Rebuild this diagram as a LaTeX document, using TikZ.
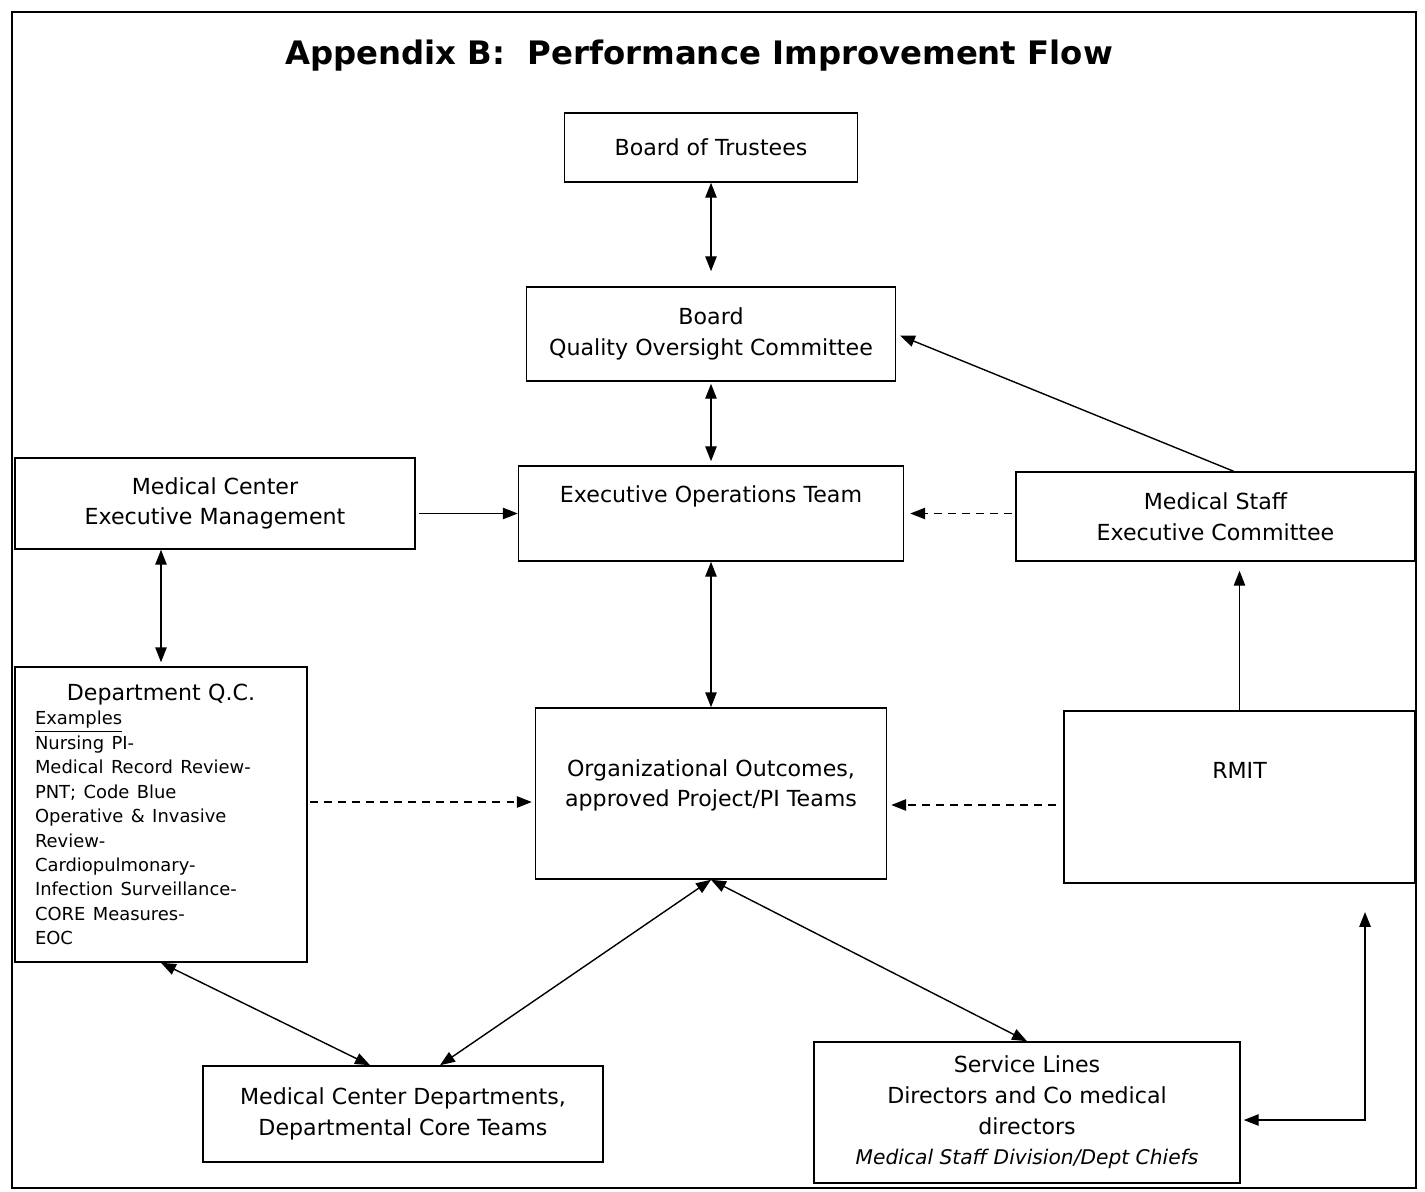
\documentclass[tikz,border=0pt]{standalone}
\usepackage{fontspec}
\setmainfont{DejaVu Sans}
\usetikzlibrary{positioning, arrows}
\usetikzlibrary{arrows.meta}

\newcommand{\boxfont}{\fontsize{12.6}{17.5}\selectfont}
\newcommand{\listfont}{\fontsize{10.2}{13.9}\selectfont}

\begin{document}
\begin{tikzpicture}[x=0.02cm, y=-0.02cm, >={Triangle[length=8.5pt,width=6.5pt]},
    box/.style={draw, line width=0.9pt, inner sep=0pt, align=center, font=\boxfont},
    flow/.style={<->, line width=0.8pt},
    oneway/.style={->, line width=0.8pt},
    dashedflow/.style={->, line width=0.8pt, dash pattern=on 4.5pt off 3.5pt}]

    \useasboundingbox (0,0) rectangle (1425,1192);
    \draw[line width=1pt] (12,12) rectangle (1416,1188);

    % Title
    \node[font=\fontsize{18.4}{22}\selectfont\bfseries] (title) at (699,56) {Appendix B:~ Performance Improvement Flow};

    % Define nodes
    \node[box, minimum width=5.86cm, minimum height=1.38cm] (bot) at (711,147.5) {Board of Trustees};
    \node[box, minimum width=7.38cm, minimum height=1.88cm] (bqoc) at (711,334) {Board\\Quality Oversight Committee};
    \node[box, minimum width=7.7cm, minimum height=1.9cm, inner ysep=0.3cm, text height=0.42cm, text depth=0.88cm] (eot) at (711,513.5) {Executive Operations Team};
    \node[box, minimum width=8cm, minimum height=1.82cm] (mcem) at (215,503.5) {Medical Center\\Executive Management};
    \node[box, minimum width=7.98cm, minimum height=1.78cm] (msec) at (1215.5,516.5) {Medical Staff\\Executive Committee};
    \node[box, align=left, text width=5.04cm, inner xsep=0.4cm, minimum height=5.9cm] (dqc) at (161,814.5) {%
        \hfill Department Q.C.\hfill\null\par
        {\listfont \underline{Examples}\\ Nursing PI-\\ Medical Record Review-\\ PNT; Code Blue\\ Operative \& Invasive\\ Review-\\ Cardiopulmonary-\\ Infection Surveillance-\\ CORE Measures-\\ EOC\par}};
    \node[box, minimum width=7.02cm, minimum height=3.42cm] (oo) at (711,793.5) {Organizational Outcomes,\\approved Project/PI Teams\\[-0.2cm]\mbox{}};
    \node[box, minimum width=7.02cm, minimum height=3.44cm, inner ysep=0.3cm, text height=1.04cm, text depth=1.8cm] (rmit) at (1239.5,797) {RMIT};
    \node[box, minimum width=8cm, minimum height=1.92cm] (mcd) at (403,1114) {Medical Center Departments,\\Departmental Core Teams};
    \node[box, minimum width=8.52cm, minimum height=2.82cm] (sl) at (1027,1112.5) {Service Lines\\Directors and Co medical\\directors\\{\fontsize{11.5}{17.5}\selectfont\itshape Medical Staff Division/Dept Chiefs}};
    \coordinate (rmitin) at (1365,912);

    % Draw edges with arrows
    \draw[flow, shorten >=0.3cm] (bot) -- (bqoc);
    \draw[flow, shorten <=0.04cm, shorten >=0.08cm] (bqoc) -- (eot);
    \draw[oneway, shorten <=0.06cm] (mcem.east |- eot) -- (eot);
    \draw[dashedflow, shorten <=0.06cm, shorten >=0.12cm] (msec.west |- eot) -- (eot.east);
    \draw[oneway, shorten >=0.08cm] ([xshift=0.36cm]msec.north) -- (bqoc.east);
    \draw[flow, shorten >=0.08cm] (mcem.south -| dqc.north) -- (dqc.north);
    \draw[flow] (eot) -- (oo);
    \draw[dashedflow, shorten <=0.04cm, shorten >=0.06cm] ([yshift=0.25cm]dqc.east) -- ([yshift=0.25cm]dqc.east -| oo.west);
    \draw[dashedflow, shorten <=0.14cm, shorten >=0.08cm] ([yshift=-0.16cm]rmit.west) -- ([yshift=-0.16cm]rmit.west -| oo.east);
    \draw[oneway, shorten >=0.18cm] (rmit.north) -- (rmit.north |- msec.south);
    \draw[flow] (dqc.south) -- ([xshift=-0.66cm]mcd.north);
    \draw[flow] (oo.south) -- ([xshift=0.74cm]mcd.north);
    \draw[flow] (oo.south) -- (sl.north);
    \draw[flow, shorten >=0.06cm] (rmitin) |- ([yshift=-0.15cm]sl.east);

\end{tikzpicture}
\end{document}
